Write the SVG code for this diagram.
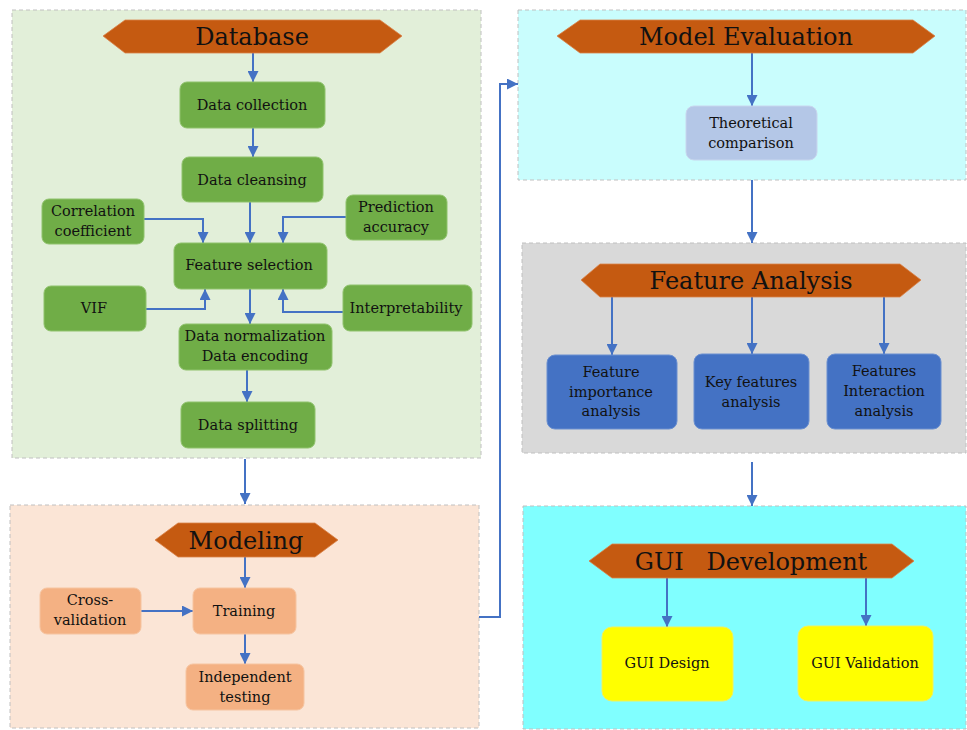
<svg xmlns="http://www.w3.org/2000/svg" width="967" height="730" viewBox="0 0 967 730">
<style>
.panel{stroke:#c0c0c0;stroke-width:1;stroke-dasharray:4 3}
.hex{fill:#c55a11;stroke:#d9834a;stroke-width:0.8}
.ht{font-family:"DejaVu Serif","Liberation Serif",serif;font-size:24px;fill:#111;text-anchor:middle}
.t{font-family:"DejaVu Serif","Liberation Serif",serif;font-size:14.5px;fill:#111;text-anchor:middle}
.g{fill:#70ad47;stroke:#8fc26c;stroke-width:1}
.o{fill:#f4b183;stroke:#f6c4a0;stroke-width:1}
.b{fill:#4472c4;stroke:#6a8fd0;stroke-width:1}
.lb{fill:#b4c7e7;stroke:#c8d6ee;stroke-width:1}
.y{fill:#ffff00;stroke:#f0f060;stroke-width:1}
.c{fill:none;stroke:#4472c4;stroke-width:2}
</style>
<defs>
<marker id="ah" markerUnits="userSpaceOnUse" markerWidth="11" markerHeight="11" refX="10" refY="5" orient="auto" viewBox="0 0 10 10">
<path d="M0,0 L10,5 L0,10 z" fill="#4472c4"/>
</marker>
</defs>
<rect width="967" height="730" fill="#ffffff"/>

<g id="panel-database"><rect class="panel" x="12" y="10" width="469" height="448" fill="#e2efd9"/></g>
<g id="panel-modeling"><rect class="panel" x="10" y="505" width="469" height="223" fill="#fbe5d6"/></g>
<g id="panel-evaluation"><rect class="panel" x="518" y="10" width="448" height="170" fill="#c9fdfd"/></g>
<g id="panel-feature"><rect class="panel" x="522" y="243" width="444" height="210" fill="#d9d9d9"/></g>
<g id="panel-gui"><rect class="panel" x="523" y="506" width="443" height="223" fill="#80ffff"/></g>

<g id="connectors">
<line class="c" x1="253" y1="53" x2="253" y2="82" marker-end="url(#ah)"/>
<line class="c" x1="253" y1="128" x2="253" y2="157" marker-end="url(#ah)"/>
<polyline class="c" points="144,219 203,219 203,243" marker-end="url(#ah)"/>
<line class="c" x1="250" y1="202" x2="250" y2="243" marker-end="url(#ah)"/>
<polyline class="c" points="346,217 283,217 283,243" marker-end="url(#ah)"/>
<polyline class="c" points="146,309 205,309 205,289" marker-end="url(#ah)"/>
<polyline class="c" points="343,312 283,312 283,289" marker-end="url(#ah)"/>
<line class="c" x1="250" y1="289" x2="250" y2="324" marker-end="url(#ah)"/>
<line class="c" x1="247" y1="370" x2="247" y2="402" marker-end="url(#ah)"/>
<line class="c" x1="245" y1="459" x2="245" y2="504" marker-end="url(#ah)"/>
<line class="c" x1="245" y1="557" x2="245" y2="588" marker-end="url(#ah)"/>
<line class="c" x1="141" y1="611" x2="193" y2="611" marker-end="url(#ah)"/>
<line class="c" x1="245" y1="634" x2="245" y2="664" marker-end="url(#ah)"/>
<polyline class="c" points="479,617 500,617 500,84 518,84" marker-end="url(#ah)"/>
<line class="c" x1="752" y1="53" x2="752" y2="106" marker-end="url(#ah)"/>
<line class="c" x1="752" y1="180" x2="752" y2="243" marker-end="url(#ah)"/>
<line class="c" x1="612" y1="297" x2="612" y2="355" marker-end="url(#ah)"/>
<line class="c" x1="752" y1="297" x2="752" y2="354" marker-end="url(#ah)"/>
<line class="c" x1="884" y1="297" x2="884" y2="354" marker-end="url(#ah)"/>
<line class="c" x1="752" y1="462" x2="752" y2="506" marker-end="url(#ah)"/>
<line class="c" x1="667" y1="578" x2="667" y2="627" marker-end="url(#ah)"/>
<line class="c" x1="866" y1="576" x2="866" y2="626" marker-end="url(#ah)"/>
</g>

<g id="hdr-database"><polygon class="hex" points="103,36 125,20 380,20 402,36 380,53 125,53"/><text class="ht" x="252" y="45">Database</text></g>
<g id="n-collection"><rect class="g" x="180" y="82" width="145" height="46" rx="7"/><text class="t" x="252" y="110">Data collection</text></g>
<g id="n-cleansing"><rect class="g" x="182" y="157" width="141" height="45" rx="7"/><text class="t" x="252" y="185">Data cleansing</text></g>
<g id="n-correlation"><rect class="g" x="42" y="199" width="102" height="45" rx="7"/><text class="t" x="93" y="216">Correlation</text><text class="t" x="93" y="236">coefficient</text></g>
<g id="n-prediction"><rect class="g" x="346" y="195" width="101" height="45" rx="7"/><text class="t" x="396" y="212">Prediction</text><text class="t" x="396" y="232">accuracy</text></g>
<g id="n-feature-selection"><rect class="g" x="174" y="243" width="153" height="46" rx="7"/><text class="t" x="249" y="270">Feature selection</text></g>
<g id="n-vif"><rect class="g" x="44" y="286" width="102" height="45" rx="7"/><text class="t" x="94" y="313">VIF</text></g>
<g id="n-interpretability"><rect class="g" x="343" y="285" width="129" height="46" rx="7"/><text class="t" x="406" y="313">Interpretability</text></g>
<g id="n-normalization"><rect class="g" x="179" y="324" width="153" height="46" rx="7"/><text class="t" x="255" y="341">Data normalization</text><text class="t" x="255" y="361">Data encoding</text></g>
<g id="n-splitting"><rect class="g" x="181" y="402" width="134" height="46" rx="7"/><text class="t" x="248" y="430">Data splitting</text></g>

<g id="hdr-modeling"><polygon class="hex" points="155,540 178,523 315,523 338,540 315,557 178,557"/><text class="ht" x="246" y="549">Modeling</text></g>
<g id="n-cross"><rect class="o" x="40" y="588" width="101" height="46" rx="7"/><text class="t" x="90" y="605">Cross-</text><text class="t" x="90" y="625">validation</text></g>
<g id="n-training"><rect class="o" x="193" y="588" width="103" height="46" rx="7"/><text class="t" x="244" y="616">Training</text></g>
<g id="n-testing"><rect class="o" x="186" y="664" width="118" height="46" rx="7"/><text class="t" x="245" y="682">Independent</text><text class="t" x="245" y="702">testing</text></g>

<g id="hdr-evaluation"><polygon class="hex" points="557,36 580,20 913,20 935,36 913,53 580,53"/><text class="ht" x="746" y="45">Model Evaluation</text></g>
<g id="n-theoretical"><rect class="lb" x="686" y="106" width="131" height="54" rx="8"/><text class="t" x="751" y="128">Theoretical</text><text class="t" x="751" y="148">comparison</text></g>

<g id="hdr-feature"><polygon class="hex" points="581,280 600,264 900,264 921,280 900,297 600,297"/><text class="ht" x="751" y="289">Feature Analysis</text></g>
<g id="n-importance"><rect class="b" x="547" y="355" width="130" height="74" rx="8"/><text class="t" x="611" y="377">Feature</text><text class="t" x="611" y="397">importance</text><text class="t" x="611" y="416">analysis</text></g>
<g id="n-key"><rect class="b" x="694" y="354" width="115" height="75" rx="8"/><text class="t" x="751" y="387">Key features</text><text class="t" x="751" y="407">analysis</text></g>
<g id="n-interaction"><rect class="b" x="827" y="354" width="114" height="75" rx="8"/><text class="t" x="884" y="376">Features</text><text class="t" x="884" y="396">Interaction</text><text class="t" x="884" y="416">analysis</text></g>

<g id="hdr-gui"><polygon class="hex" points="589,561 612,544 892,544 914,561 892,578 612,578"/><text class="ht" x="751" y="570" xml:space="preserve">GUI   Development</text></g>
<g id="n-gui-design"><rect class="y" x="602" y="627" width="131" height="74" rx="10"/><text class="t" x="667" y="668">GUI Design</text></g>
<g id="n-gui-validation"><rect class="y" x="798" y="626" width="135" height="75" rx="10"/><text class="t" x="865" y="668">GUI Validation</text></g>
</svg>
